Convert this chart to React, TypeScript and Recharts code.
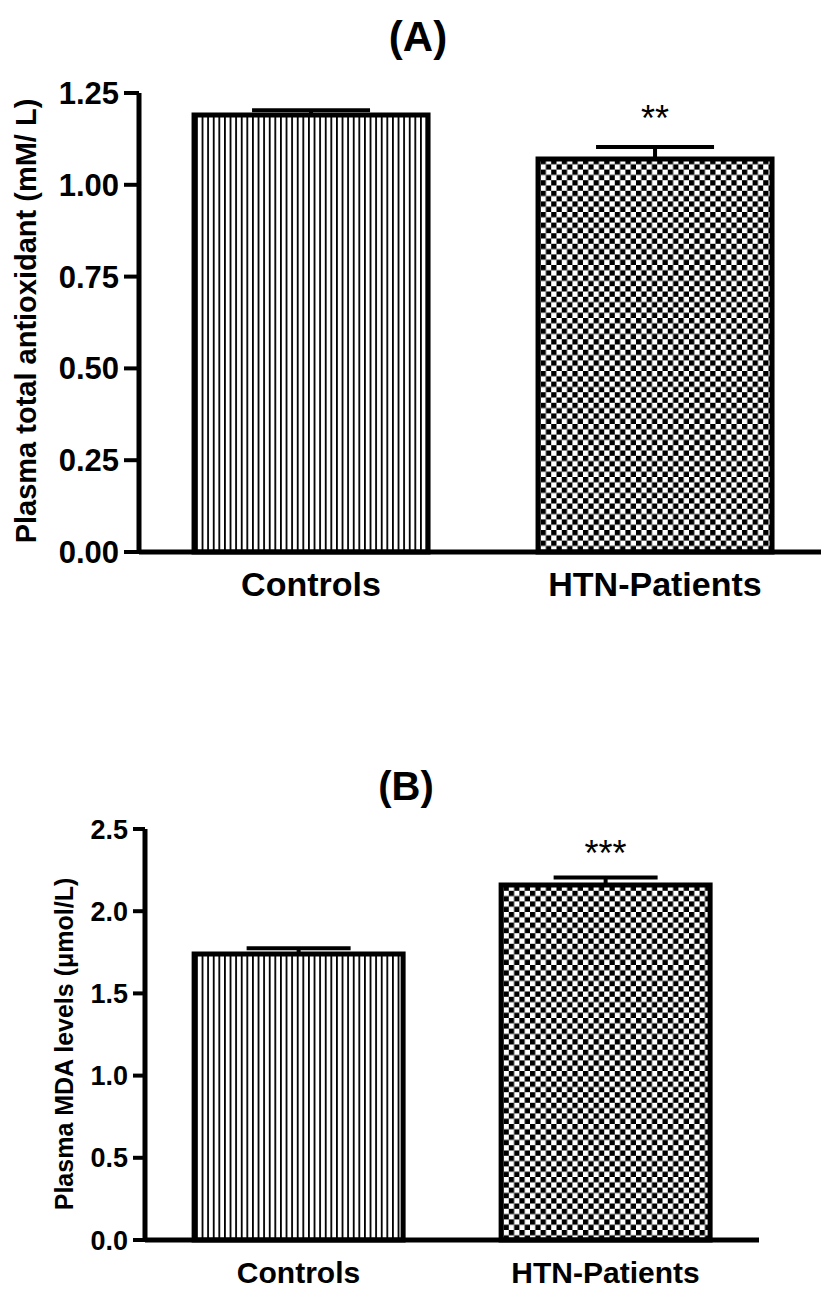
import { BarChart, Bar, XAxis, YAxis, ErrorBar, LabelList, Cell } from "recharts"

const groups = ["Controls", "HTN-Patients"]

// (A) plasma total antioxidant, mM/L
const antioxMeans = [1.19, 1.07]
const antioxSem = [0.013, 0.033]
const antioxSig = ["", "**"]
const antioxTicks = [0, 0.25, 0.5, 0.75, 1.0, 1.25]

// (B) plasma MDA, umol/L
const mdaMeans = [1.74, 2.16]
const mdaSem = [0.035, 0.045]
const mdaSig = ["", "***"]
const mdaTicks = [0, 0.5, 1.0, 1.5, 2.0, 2.5]

const fills = ["url(#vlines)", "url(#checks)"]
const font = "'Liberation Sans', Arial, sans-serif"

const antioxData = groups.map((g, i) => ({
  group: g,
  mean: antioxMeans[i],
  err: [0, antioxSem[i]],
  sig: antioxSig[i],
}))

const mdaData = groups.map((g, i) => ({
  group: g,
  mean: mdaMeans[i],
  err: [0, mdaSem[i]],
  sig: mdaSig[i],
}))

function AxisTitle({ cx, cy, text, size }: { cx: number; cy: number; text: string; size: number }) {
  return (
    <text
      x={cx}
      y={cy}
      transform={`rotate(-90 ${cx} ${cy})`}
      textAnchor="middle"
      dominantBaseline="central"
      fontFamily={font}
      fontWeight="bold"
      fontSize={size}
      fill="#000"
    >
      {text}
    </text>
  )
}

const starLabel = (lift: number) => (props: any) => {
  const { x, y, width, value } = props
  if (!value) return null
  return (
    <text
      x={Number(x) + Number(width) / 2}
      y={Number(y) - lift}
      textAnchor="middle"
      fontFamily={font}
      fontSize={36}
      fill="#000"
    >
      {value}
    </text>
  )
}

function Patterns() {
  return (
    <svg width={0} height={0} style={{ position: "absolute" }}>
      <defs>
        <pattern id="vlines" width={5.6} height={10} patternUnits="userSpaceOnUse">
          <rect x={0} y={0} width={5.6} height={10} fill="#fff" />
          <rect x={0} y={0} width={1.8} height={10} fill="#000" />
        </pattern>
        <pattern id="checks" width={10.6} height={10.6} patternUnits="userSpaceOnUse">
          <rect x={0} y={0} width={10.6} height={10.6} fill="#fff" />
          <rect x={0} y={0} width={5.3} height={5.3} fill="#000" />
          <rect x={5.3} y={5.3} width={5.3} height={5.3} fill="#000" />
        </pattern>
      </defs>
    </svg>
  )
}

export default function App() {
  const tickStyle = { fontSize: 31, fontWeight: "bold", fill: "#000", fontFamily: font }
  return (
    <div style={{ position: "absolute", left: 0, top: 0, width: 821, height: 1289, background: "#fff" }}>
      <Patterns />
      <div
        style={{
          position: "absolute",
          left: 0,
          top: 13,
          width: 836,
          textAlign: "center",
          fontFamily: font,
          fontWeight: "bold",
          fontSize: 42,
        }}
      >
        (A)
      </div>
      <div style={{ position: "absolute", left: 0, top: 0 }}>
        <BarChart
          width={821}
          height={612}
          data={antioxData}
          margin={{ top: 93, right: 0, bottom: 0, left: 0 }}
          barCategoryGap="16%"
        >
          <XAxis
            dataKey="group"
            height={60}
            padding={{ left: 0, right: -6 }}
            axisLine={{ stroke: "#000", strokeWidth: 5 }}
            tickLine={false}
            tickMargin={14}
            tick={{ fontSize: 34, fontWeight: "bold", fill: "#000", fontFamily: font }}
          />
          <YAxis
            width={139}
            domain={[0, 1.25]}
            ticks={antioxTicks}
            interval={0}
            tickFormatter={(v: number) => v.toFixed(2)}
            axisLine={{ stroke: "#000", strokeWidth: 5 }}
            tickLine={{ stroke: "#000", strokeWidth: 4 }}
            tickSize={15}
            tickMargin={5}
            tick={tickStyle}
            label={<AxisTitle cx={26} cy={321} size={29} text="Plasma total antioxidant (mM/ L)" />}
          />
          <Bar dataKey="mean" stroke="#000" strokeWidth={5} isAnimationActive={false}>
            {antioxData.map((d, i) => (
              <Cell key={d.group} fill={fills[i]} />
            ))}
            <ErrorBar dataKey="err" width={59} stroke="#000" strokeWidth={4} direction="y" />
            <LabelList dataKey="sig" content={starLabel(28)} />
          </Bar>
        </BarChart>
      </div>

      <div
        style={{
          position: "absolute",
          left: 0,
          top: 764,
          width: 812,
          textAlign: "center",
          fontFamily: font,
          fontWeight: "bold",
          fontSize: 40,
        }}
      >
        (B)
      </div>
      <div style={{ position: "absolute", left: 0, top: 700 }}>
        <BarChart
          width={821}
          height={589}
          data={mdaData}
          margin={{ top: 129, right: 62, bottom: 0, left: 0 }}
          barCategoryGap="16%"
        >
          <XAxis
            dataKey="group"
            height={49}
            axisLine={{ stroke: "#000", strokeWidth: 5 }}
            tickLine={false}
            tickMargin={16}
            tick={{ fontSize: 30, fontWeight: "bold", fill: "#000", fontFamily: font }}
          />
          <YAxis
            width={145}
            domain={[0, 2.5]}
            ticks={mdaTicks}
            interval={0}
            tickFormatter={(v: number) => v.toFixed(1)}
            axisLine={{ stroke: "#000", strokeWidth: 5 }}
            tickLine={{ stroke: "#000", strokeWidth: 4 }}
            tickSize={12}
            tickMargin={5}
            tick={{ ...tickStyle, fontSize: 27 }}
            label={<AxisTitle cx={64} cy={344} size={25} text="Plasma MDA levels (μmol/L)" />}
          />
          <Bar dataKey="mean" stroke="#000" strokeWidth={5} isAnimationActive={false}>
            {mdaData.map((d, i) => (
              <Cell key={d.group} fill={fills[i]} />
            ))}
            <ErrorBar dataKey="err" width={52} stroke="#000" strokeWidth={4} direction="y" />
            <LabelList dataKey="sig" content={starLabel(19)} />
          </Bar>
        </BarChart>
      </div>
    </div>
  )
}
